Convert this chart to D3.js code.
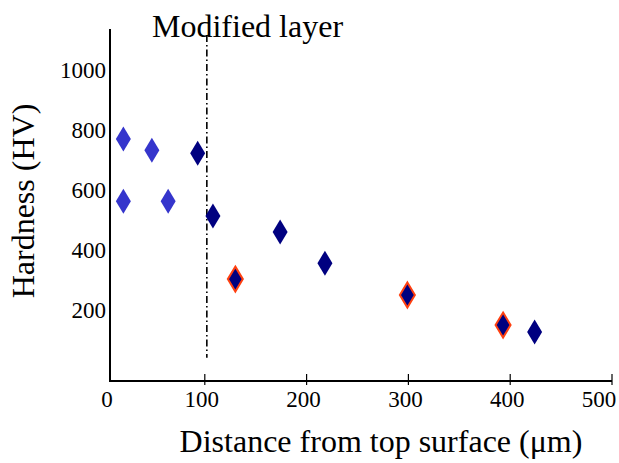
<!DOCTYPE html>
<html lang="en">
<head>
  <meta charset="UTF-8">
  <title>Hardness vs distance</title>
  <script src="https://cdn.jsdelivr.net/npm/d3@7/dist/d3.min.js"></script>
  <style>
    body { margin: 0; background: #fff; }
    text { font-family: "Liberation Serif", "Times New Roman", serif; fill: #000; }
  </style>
</head>
<body>
  <svg width="619" height="463"></svg>

  <script>
    // data (distance in um, hardness in HV)
    var lightDepth = [20, 48, 64, 20];
    var lightHV    = [770, 733, 563, 563];

    var navyDepth = [93, 108, 174, 218, 424];
    var navyHV    = [723, 514, 461, 357, 128];

    var ringDepth = [130, 299, 393];
    var ringHV    = [304, 251, 151];

    var xTicks = [0, 100, 200, 300, 400, 500];
    var yTicks = [200, 400, 600, 800, 1000];
    var layerDepth = 102;

    var svg = d3.select("svg");

    var x = d3.scaleLinear().domain([0, 500]).range([103, 612]);
    var y = d3.scaleLinear().domain([0, 1000]).range([370.5, 69.9]);

    var axisX = 110, axisY = 381, axisTop = 29;

    // axes
    svg.append("line")
      .attr("x1", axisX).attr("x2", axisX)
      .attr("y1", axisTop).attr("y2", axisY)
      .attr("stroke", "#000").attr("stroke-width", 2);
    svg.append("line")
      .attr("x1", axisX - 1).attr("x2", x(500))
      .attr("y1", axisY).attr("y2", axisY)
      .attr("stroke", "#000").attr("stroke-width", 2);

    svg.selectAll(".xtick")
      .data(xTicks.filter(function (d) { return d > 0; }))
      .enter().append("line")
      .attr("class", "xtick")
      .attr("x1", function (d) { return x(d); })
      .attr("x2", function (d) { return x(d); })
      .attr("y1", axisY - 7).attr("y2", axisY + 4)
      .attr("stroke", "#000").attr("stroke-width", 1.2);

    // labels sit a little left of their ticks; the last one is pulled in
    svg.selectAll(".xlab")
      .data(xTicks)
      .enter().append("text")
      .attr("class", "xlab")
      .attr("x", function (d) { return Math.min(Math.max(x(d), axisX) - 3, 599); })
      .attr("y", 407)
      .attr("text-anchor", "middle")
      .style("font-size", "23px")
      .text(function (d) { return d; });

    svg.selectAll(".ylab")
      .data(yTicks)
      .enter().append("text")
      .attr("class", "ylab")
      .attr("x", 106)
      .attr("y", function (d) { return y(d) + 8; })
      .attr("text-anchor", "end")
      .style("font-size", "23px")
      .text(function (d) { return d; });

    // modified layer boundary
    svg.append("line")
      .attr("x1", x(layerDepth)).attr("x2", x(layerDepth))
      .attr("y1", y(1116)).attr("y2", y(42))
      .attr("stroke", "#000").attr("stroke-width", 1.6)
      .attr("stroke-dasharray", "7,3,1.5,3");

    svg.append("text")
      .attr("x", 152).attr("y", 37)
      .style("font-size", "32px")
      .text("Modified layer");

    // markers
    var diamond = "M0,-12.5 L7.5,0 L0,12.5 L-7.5,0 Z";

    function drawSet(xs, ys, fill, stroke) {
      svg.append("g").selectAll("path")
        .data(xs)
        .enter().append("path")
        .attr("d", diamond)
        .attr("transform", function (d, i) { return "translate(" + x(d) + "," + y(ys[i]) + ")"; })
        .attr("fill", fill)
        .attr("stroke", stroke || "none")
        .attr("stroke-width", stroke ? 2 : 0);
    }

    drawSet(lightDepth, lightHV, "#3535cc");
    drawSet(navyDepth, navyHV, "#000080");
    drawSet(ringDepth, ringHV, "#000080", "#ff4010");

    // axis titles
    svg.append("text")
      .attr("x", 381).attr("y", 452)
      .attr("text-anchor", "middle")
      .style("font-size", "32px")
      .text("Distance from top surface (\u03bcm)");

    svg.append("text")
      .attr("transform", "translate(34,201) rotate(-90)")
      .attr("text-anchor", "middle")
      .style("font-size", "32px")
      .text("Hardness (HV)");
  </script>
</body>
</html>
